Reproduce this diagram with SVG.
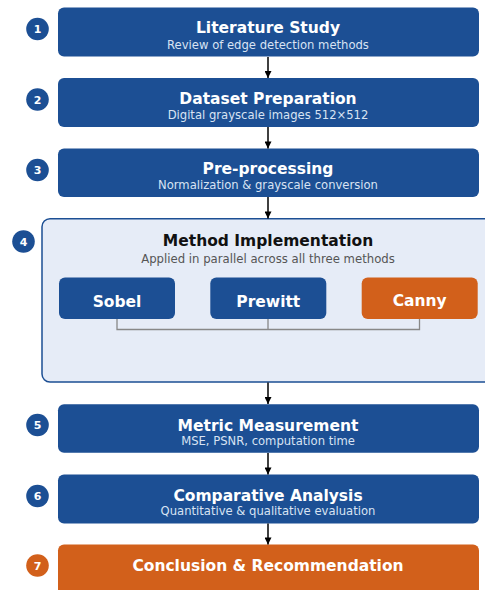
<svg xmlns="http://www.w3.org/2000/svg" width="485" height="590" viewBox="0 0 485 590">
<defs>
<style>
.blue{fill:#1c4f94;}
.orange{fill:#d2601b;}
.title{font-family:"DejaVu Sans",sans-serif;font-weight:bold;font-size:15.5px;fill:#ffffff;text-anchor:middle;}
.sub{font-family:"DejaVu Sans",sans-serif;font-size:11.6px;fill:#d8e3f3;text-anchor:middle;}
.num{font-family:"DejaVu Sans",sans-serif;font-weight:bold;font-size:11px;fill:#ffffff;text-anchor:middle;}
.ctitle{font-family:"DejaVu Sans",sans-serif;font-weight:bold;font-size:15.5px;fill:#111111;text-anchor:middle;}
.csub{font-family:"DejaVu Sans",sans-serif;font-size:11.7px;fill:#555555;text-anchor:middle;}
.arrow{stroke:#000;stroke-width:1.5;fill:none;marker-end:url(#ah);}
.link{stroke:#888888;stroke-width:1.3;fill:none;}
</style>
<marker id="ah" viewBox="0 0 10 10" refX="10" refY="5" markerWidth="9" markerHeight="7" markerUnits="userSpaceOnUse" orient="auto">
<path d="M0,0 L10,5 L0,10 z" fill="#000"/>
</marker>
</defs>
<rect width="485" height="590" fill="#ffffff"/>

<g id="step1">
<circle cx="37.5" cy="29" r="11.3" class="blue"/>
<text x="37.5" y="33" class="num">1</text>
<rect x="58" y="7.5" width="421" height="49" rx="6" class="blue"/>
<text x="268" y="33" class="title">Literature Study</text>
<text x="268" y="48.5" class="sub">Review of edge detection methods</text>
</g>

<g id="step2">
<circle cx="37.5" cy="99.5" r="11.3" class="blue"/>
<text x="37.5" y="103.5" class="num">2</text>
<rect x="58" y="78" width="421" height="49" rx="6" class="blue"/>
<text x="268" y="103.5" class="title">Dataset Preparation</text>
<text x="268" y="119" class="sub">Digital grayscale images 512×512</text>
</g>

<g id="step3">
<circle cx="37.5" cy="170" r="11.3" class="blue"/>
<text x="37.5" y="174" class="num">3</text>
<rect x="58" y="148.5" width="421" height="48.5" rx="6" class="blue"/>
<text x="268" y="174" class="title">Pre-processing</text>
<text x="268" y="189" class="sub">Normalization &amp; grayscale conversion</text>
</g>

<g id="step4">
<circle cx="23.5" cy="241.5" r="11.3" class="blue"/>
<text x="23.5" y="245.5" class="num">4</text>
<rect x="42" y="218.7" width="460" height="163.3" rx="8" fill="#e6ecf7" stroke="#1c4f94" stroke-width="1.5"/>
<text x="268" y="246" class="ctitle">Method Implementation</text>
<text x="268" y="262.5" class="csub">Applied in parallel across all three methods</text>
</g>

<g id="sobel">
<rect x="59" y="277.5" width="116" height="41.5" rx="6" class="blue"/>
<text x="117" y="307" class="title">Sobel</text>
</g>

<g id="prewitt">
<rect x="210.3" y="277.5" width="116" height="41.5" rx="6" class="blue"/>
<text x="268.3" y="307" class="title">Prewitt</text>
</g>

<g id="canny">
<rect x="361.7" y="277.5" width="116" height="41.5" rx="6" class="orange"/>
<text x="419.7" y="305.5" class="title">Canny</text>
</g>

<g id="step5">
<circle cx="37.5" cy="425" r="11.3" class="blue"/>
<text x="37.5" y="429" class="num">5</text>
<rect x="58" y="404.3" width="421" height="48.5" rx="6" class="blue"/>
<text x="268" y="430.5" class="title">Metric Measurement</text>
<text x="268" y="445" class="sub">MSE, PSNR, computation time</text>
</g>

<g id="step6">
<circle cx="37.5" cy="496" r="11.3" class="blue"/>
<text x="37.5" y="500" class="num">6</text>
<rect x="58" y="474.5" width="421" height="49" rx="6" class="blue"/>
<text x="268" y="500.5" class="title">Comparative Analysis</text>
<text x="268" y="515" class="sub">Quantitative &amp; qualitative evaluation</text>
</g>

<g id="step7">
<circle cx="37.5" cy="565.5" r="11.3" class="orange"/>
<text x="37.5" y="569.5" class="num">7</text>
<rect x="58" y="544.5" width="421" height="60" rx="6" class="orange"/>
<text x="268" y="570.7" class="title">Conclusion &amp; Recommendation</text>
</g>

<g id="connectors">
<line class="arrow" x1="268" y1="57" x2="268" y2="78"/>
<line class="arrow" x1="268" y1="127" x2="268" y2="148.5"/>
<line class="arrow" x1="268" y1="197" x2="268" y2="218.5"/>
<line class="arrow" x1="268" y1="382.5" x2="268" y2="404"/>
<line class="arrow" x1="268" y1="453" x2="268" y2="474.5"/>
<line class="arrow" x1="268" y1="523.5" x2="268" y2="544.5"/>
<path class="link" d="M117,319 V329.5 H419.5 V319 M268,319 V329.5"/>
</g>
</svg>
